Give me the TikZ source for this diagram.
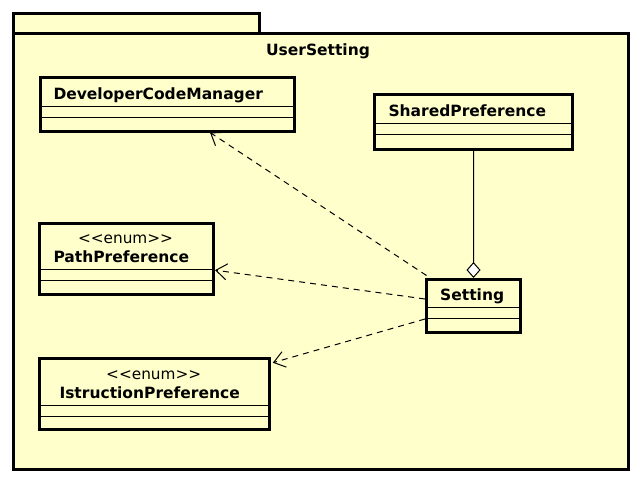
\documentclass[tikz,border=0pt]{standalone}
\usepackage{fontspec}
\setmainfont{DejaVu Sans}
\usetikzlibrary{arrows.meta}
\definecolor{pkgfill}{HTML}{FFFFCC}
\begin{document}
\begin{tikzpicture}[x=1pt,y=-1pt,
  box/.style={draw, line width=3pt, fill=pkgfill, inner sep=0pt, outer sep=0pt, anchor=north west},
  sepline/.style={line width=1pt},
  cname/.style={font=\fontsize{15.5}{18}\selectfont\bfseries, inner sep=0pt, anchor=base west},
  stereo/.style={font=\fontsize{15.3}{18}\selectfont, inner sep=0pt, anchor=base},
  dep/.style={line width=1pt, dash pattern=on 6pt off 5pt, -{Straight Barb[length=11pt,width=16pt,line width=1pt]}},
  agg/.style={line width=1pt, -{Diamond[open,fill=white,length=16pt,width=14pt,line width=1pt]}}]
\useasboundingbox[fill=white] (0,0) rectangle (642,482);
% package
\draw[line width=3pt, fill=pkgfill] (13.5,13.5) rectangle (259.5,33.5);
\draw[line width=3pt, fill=pkgfill] (13.5,33.5) rectangle (628.5,469.5);
\node[cname, anchor=base] (pkg) at (318,55) {UserSetting};
% DeveloperCodeManager
\node[box, minimum width=254pt, minimum height=54pt] (dcm) at (40.5,77.5) {};
\node[cname] (dcmn) at (53.3,99.3) {DeveloperCodeManager};
\draw[sepline] ([yshift=-28.8pt]dcm.north west) -- ([yshift=-28.8pt]dcm.north east);
\draw[sepline] ([yshift=-39.5pt]dcm.north west) -- ([yshift=-39.5pt]dcm.north east);
% SharedPreference
\node[box, minimum width=197.7pt, minimum height=54.4pt] (sp) at (374.8,94.8) {};
\node[cname] (spn) at (388.3,116) {SharedPreference};
\draw[sepline] ([yshift=-28.5pt]sp.north west) -- ([yshift=-28.5pt]sp.north east);
\draw[sepline] ([yshift=-39.2pt]sp.north west) -- ([yshift=-39.2pt]sp.north east);
% PathPreference
\node[box, minimum width=174pt, minimum height=71.3pt] (pp) at (39.8,223.5) {};
\node[stereo] (pps) at (125.5,243.3) {<{}<enum>{}>};
\node[cname] (ppn) at (53.3,262.3) {PathPreference};
\draw[sepline] ([yshift=-45.8pt]pp.north west) -- ([yshift=-45.8pt]pp.north east);
\draw[sepline] ([yshift=-56.8pt]pp.north west) -- ([yshift=-56.8pt]pp.north east);
% IstructionPreference
\node[box, minimum width=230pt, minimum height=71pt] (ip) at (39.8,358.2) {};
\node[stereo] (ips) at (153.7,379) {<{}<enum>{}>};
\node[cname] (ipn) at (59.3,398) {IstructionPreference};
\draw[sepline] ([yshift=-47.5pt]ip.north west) -- ([yshift=-47.5pt]ip.north east);
\draw[sepline] ([yshift=-58.5pt]ip.north west) -- ([yshift=-58.5pt]ip.north east);
% Setting
\node[box, minimum width=94pt, minimum height=53pt] (set) at (426.5,279.5) {};
\node[cname] (setn) at (440,300.7) {Setting};
\draw[sepline] ([yshift=-27.8pt]set.north west) -- ([yshift=-27.8pt]set.north east);
\draw[sepline] ([yshift=-39.2pt]set.north west) -- ([yshift=-39.2pt]set.north east);
% connectors
\draw[agg] ([yshift=-1.5pt]sp.south) -- ([yshift=1.5pt]set.north);
\draw[dep] ([yshift=4pt]set.north west) -- ([xshift=42.5pt,yshift=-1pt]dcm.south);
\draw[dep] ([xshift=-1.5pt,yshift=7pt]set.west) -- ([xshift=1.2pt,yshift=-11pt]pp.east);
\draw[dep] ([xshift=-1.5pt,yshift=-13pt]set.west) -- ([xshift=3pt,yshift=-4.5pt]ip.north east);
\end{tikzpicture}
\end{document}
